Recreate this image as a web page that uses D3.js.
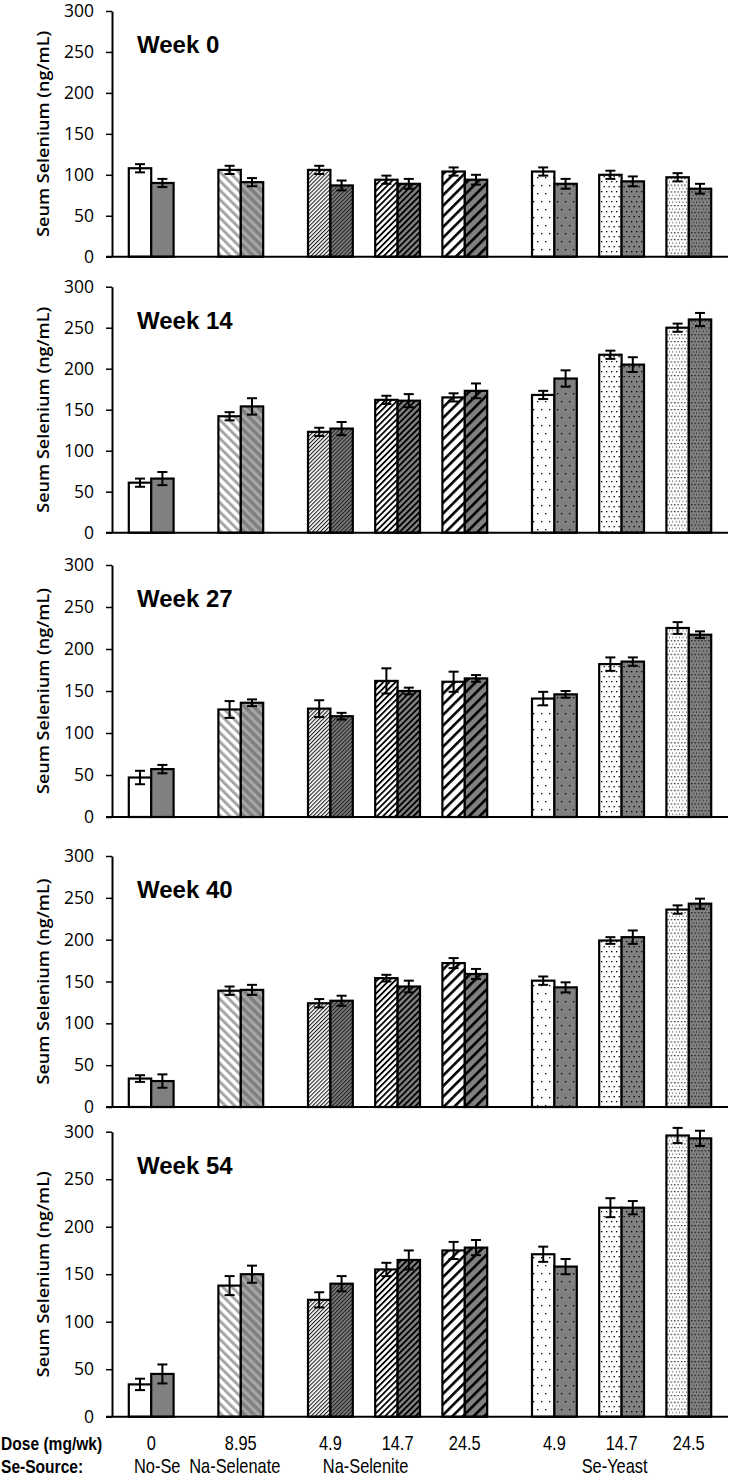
<!DOCTYPE html>
<html><head><meta charset="utf-8">
<script src="https://cdn.jsdelivr.net/npm/d3@7"></script>
<style>body{margin:0;background:#fff}</style></head><body>
<svg id="c" width="733" height="1477"></svg>
<script>
// ---------- DATA ----------
const sources = ["No-Se","Na-Selenate","Na-Selenite","Na-Selenite","Na-Selenite","Se-Yeast","Se-Yeast","Se-Yeast"];
const doses   = ["0","8.95","4.9","14.7","24.5","4.9","14.7","24.5"];
const patternKeys = ["plain","selenate","selenite1","selenite2","selenite3","yeast1","yeast2","yeast3"];
const weeks = ["Week 0","Week 14","Week 27","Week 40","Week 54"];
const yTicks = [0,50,100,150,200,250,300];

const week0White    = [108,106,106, 94,104,104,100, 97];
const week0WhiteErr = [  5,  5,  5,  5,  5,  5,  5,  5];
const week0Gray     = [ 90, 91, 87, 89, 94, 89, 92, 83];
const week0GrayErr  = [  5,  5,  6,  6,  6,  6,  6,  6];

const week14White    = [ 61,142,123,162,165,168,217,250];
const week14WhiteErr = [  5,  5,  5,  5,  5,  5,  5,  5];
const week14Gray     = [ 66,154,127,161,173,188,205,260];
const week14GrayErr  = [  8, 10,  8,  8,  9, 10,  9,  8];

const week27White    = [ 47,128,129,162,161,141,182,225];
const week27WhiteErr = [  8, 10, 10, 15, 12,  8,  8,  7];
const week27Gray     = [ 57,136,120,150,165,146,185,217];
const week27GrayErr  = [  5,  4,  4,  4,  4,  4,  5,  4];

const week40White    = [ 34,139,124,154,172,151,199,236];
const week40WhiteErr = [  4,  5,  5,  4,  6,  5,  4,  5];
const week40Gray     = [ 31,140,127,144,159,143,203,243];
const week40GrayErr  = [  8,  6,  6,  7,  6,  6,  8,  6];

const week54White    = [ 34,138,123,155,175,171,220,296];
const week54WhiteErr = [  6, 10,  8,  7,  9,  8, 10,  8];
const week54Gray     = [ 45,150,140,165,178,158,220,293];
const week54GrayErr  = [ 10,  9,  8, 10,  8,  8,  7,  8];

const whiteSeries = [week0White, week14White, week27White, week40White, week54White];
const whiteErrors = [week0WhiteErr, week14WhiteErr, week27WhiteErr, week40WhiteErr, week54WhiteErr];
const graySeries  = [week0Gray, week14Gray, week27Gray, week40Gray, week54Gray];
const grayErrors  = [week0GrayErr, week14GrayErr, week27GrayErr, week40GrayErr, week54GrayErr];

// ---------- LAYOUT ----------
const svg = d3.select("#c");
const panelTop = [11, 286.7, 565, 856, 1131.7];
const panelBottom = [256.7, 532.7, 817, 1107, 1416.7];
const axisX = 112, axisEnd = 728;

const slotPos = [];
let acc = 0;
sources.forEach((s,i)=>{ if(i>0){ acc += 3 + (s!==sources[i-1]?1:0);} slotPos.push(acc); });
const x = d3.scaleLinear().domain([-1.75, slotPos[slotPos.length-1]+1.75]).range([axisX, axisEnd]);
const u = x(1)-x(0);

// ---------- PATTERNS ----------
const defs = svg.append("defs");
function linePattern(id, bg, fg, period, width, angle){
  const p = defs.append("pattern").attr("id",id).attr("patternUnits","userSpaceOnUse")
    .attr("width",period).attr("height",period).attr("patternTransform",`rotate(${angle})`);
  p.append("rect").attr("width",period).attr("height",period).attr("fill",bg);
  p.append("rect").attr("x",0).attr("y",0).attr("width",width).attr("height",period).attr("fill",fg);
}
function dotPattern(id, bg, fg, step, r, offset){
  const w = step, h = offset? step*2 : step;
  const p = defs.append("pattern").attr("id",id).attr("patternUnits","userSpaceOnUse")
    .attr("width",w).attr("height",h);
  p.append("rect").attr("width",w).attr("height",h).attr("fill",bg);
  p.append("rect").attr("x",1).attr("y",1).attr("width",r).attr("height",r).attr("fill",fg);
  if(offset) p.append("rect").attr("x",1+step/2).attr("y",1+step).attr("width",r).attr("height",r).attr("fill",fg);
}
const GRAY = "#808080";
const fills = {};
fills.plain = ["#ffffff", GRAY];
linePattern("selW","#ffffff","#a6a6a6",6.5,3,-45);
linePattern("selG",GRAY,"#a8a8a8",6.5,3,-45);
fills.selenate = ["url(#selW)","url(#selG)"];
linePattern("s1W","#ffffff","#222",2.8,1.1,45);
linePattern("s1G",GRAY,"#222",2.8,1.1,45);
fills.selenite1 = ["url(#s1W)","url(#s1G)"];
linePattern("s2W","#ffffff","#000",4.3,1.8,45);
linePattern("s2G",GRAY,"#000",4.3,1.8,45);
fills.selenite2 = ["url(#s2W)","url(#s2G)"];
linePattern("s3W","#ffffff","#000",7.5,2.6,45);
linePattern("s3G",GRAY,"#000",7.5,2.6,45);
fills.selenite3 = ["url(#s3W)","url(#s3G)"];
dotPattern("y1W","#ffffff","#000",8,1.3,true);
dotPattern("y1G",GRAY,"#000",8,1.3,true);
fills.yeast1 = ["url(#y1W)","url(#y1G)"];
dotPattern("y2W","#ffffff","#000",5,1.3,true);
dotPattern("y2G",GRAY,"#000",5,1.3,true);
fills.yeast2 = ["url(#y2W)","url(#y2G)"];
dotPattern("y3W","#ffffff","#000",3.4,1.2,true);
dotPattern("y3G",GRAY,"#000",3.4,1.2,true);
fills.yeast3 = ["url(#y3W)","url(#y3G)"];

// ---------- PANELS ----------
weeks.forEach((wk, wi)=>{
  const y = d3.scaleLinear().domain([0,300]).range([panelBottom[wi], panelTop[wi]]);
  const g = svg.append("g");
  const rows = sources.map((s,i)=>({i, pos:slotPos[i], w:whiteSeries[wi][i], we:whiteErrors[wi][i], gv:graySeries[wi][i], ge:grayErrors[wi][i], key:patternKeys[i]}));
  const bars = [];
  rows.forEach(r=>{
    bars.push({x0:x(r.pos)-u, v:r.w, e:r.we, fill:fills[r.key][0]});
    bars.push({x0:x(r.pos), v:r.gv, e:r.ge, fill:fills[r.key][1]});
  });
  g.selectAll("rect.bar").data(bars).join("rect").attr("class","bar")
    .attr("x",d=>d.x0).attr("width",u)
    .attr("y",d=>y(d.v)).attr("height",d=>y(0)-y(d.v))
    .attr("fill",d=>d.fill).attr("stroke","#000").attr("stroke-width",2.2);
  const eb = g.selectAll("g.err").data(bars).join("g").attr("class","err")
    .attr("stroke","#000").attr("stroke-width",2);
  eb.append("line").attr("x1",d=>d.x0+u/2).attr("x2",d=>d.x0+u/2)
    .attr("y1",d=>y(d.v+d.e)).attr("y2",d=>y(d.v-d.e));
  eb.append("line").attr("x1",d=>d.x0+u/2-5).attr("x2",d=>d.x0+u/2+5)
    .attr("y1",d=>y(d.v+d.e)).attr("y2",d=>y(d.v+d.e));
  eb.append("line").attr("x1",d=>d.x0+u/2-5).attr("x2",d=>d.x0+u/2+5)
    .attr("y1",d=>y(d.v-d.e)).attr("y2",d=>y(d.v-d.e));
  const ax = g.append("g").attr("transform",`translate(${axisX},0)`)
    .call(d3.axisLeft(y).tickValues(yTicks).tickSize(6).tickSizeOuter(0).tickPadding(12));
  ax.select(".domain").attr("stroke","#000").attr("stroke-width",2);
  ax.selectAll(".tick line").attr("stroke","#000").attr("stroke-width",1.5);
  ax.selectAll(".tick text").attr("font-family","'Open Sans', sans-serif").attr("font-size",17.5).attr("fill","#000");
  g.append("line").attr("x1",axisX-6).attr("x2",axisEnd).attr("y1",y(0)).attr("y2",y(0))
    .attr("stroke","#000").attr("stroke-width",2);
  g.append("text").attr("x",137).attr("y",panelTop[wi]+42).text(wk)
    .attr("font-family","'Liberation Sans', Arial, sans-serif").attr("font-weight","bold").attr("font-size",24).attr("fill","#000");
  const cy = (panelTop[wi]+panelBottom[wi])/2;
  g.append("text").attr("transform",`translate(49,${cy}) rotate(-90)`).attr("text-anchor","middle")
    .attr("font-family","'Open Sans', sans-serif").attr("font-weight",600).attr("font-size",15.5)
    .attr("textLength",206).attr("lengthAdjust","spacingAndGlyphs")
    .text("Seum Selenium (ng/mL)");
});

// ---------- BOTTOM LABELS (narrow font via horizontal scaling) ----------
const sans = "'Liberation Sans',Arial,sans-serif";
const NARROW = 0.82;
function narrowText(px, py, txt, anchor, size, bold){
  svg.append("g").attr("transform",`translate(${px},${py}) scale(${NARROW},1)`)
    .append("text").attr("text-anchor",anchor).attr("font-family",sans)
    .attr("font-weight",bold?"bold":"normal").attr("font-size",size).attr("fill","#000").text(txt);
}
narrowText(1, 1450, "Dose (mg/wk)", "start", 19, true);
narrowText(1, 1473, "Se-Source:", "start", 19, true);
doses.forEach((d,i)=> narrowText(x(slotPos[i]), 1450, d, "middle", 20, false));
const srcLabels = [
  {t:"No-Se", i:0, dx:6},
  {t:"Na-Selenate", i:1, dx:-6},
  {t:"Na-Selenite", i:3, dx:-32},
  {t:"Se-Yeast", i:6, dx:-7}
];
srcLabels.forEach(d=> narrowText(x(slotPos[d.i])+d.dx, 1473, d.t, "middle", 20, false));
</script>
</body></html>
